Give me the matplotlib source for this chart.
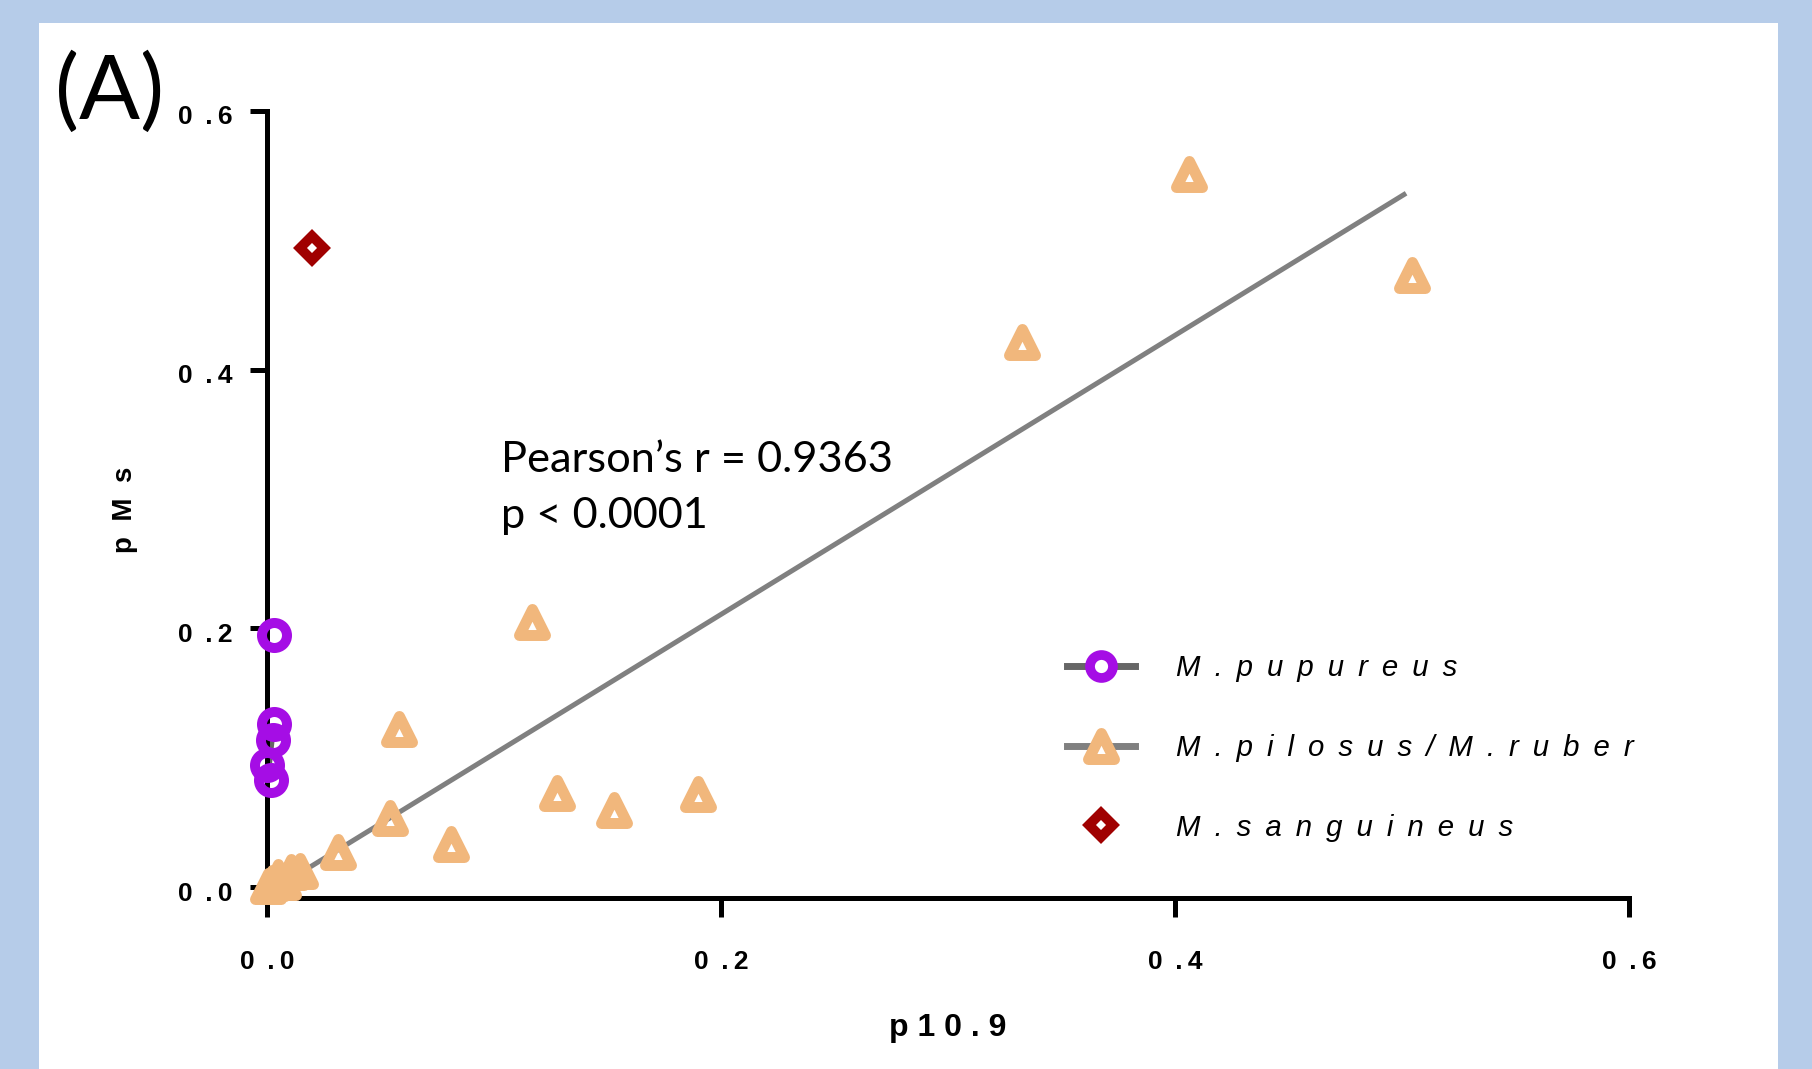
import matplotlib
matplotlib.use("Agg")
import matplotlib.pyplot as plt
from matplotlib.lines import Line2D
from matplotlib.markers import MarkerStyle
from matplotlib.patches import Rectangle
from matplotlib.transforms import ScaledTranslation

# ---- data ----
pup_x = [0.0032, 0.0032, 0.0028, 0.0001, 0.0016]
pup_y = [0.1947, 0.126, 0.114, 0.0946, 0.083]

pil_x = [0.4061, 0.5046, 0.3324, 0.1167, 0.058, 0.1276, 0.1529, 0.1897,
         0.054, 0.081, 0.0313, 0.0145, 0.0104, 0.0050, 0.002, 0.0005, 0.007]
pil_y = [0.5512, 0.4731, 0.4216, 0.2047, 0.1225, 0.073, 0.0597, 0.072,
         0.0535, 0.0333, 0.027, 0.0126, 0.0118, 0.0079, 0.003, 0.001, 0.004]

san_x = [0.020]
san_y = [0.4938]

pil_fit_x = [0.0, 0.5018]
pil_fit_y = [-0.005, 0.5364]
pup_fit_x = [0.0005, 0.0030]
pup_fit_y = [0.085, 0.125]

xticks = [0.0, 0.2, 0.4, 0.6]
yticks = [0.0, 0.2, 0.4, 0.6]
tick_labels = ["0 \u2009.\u20090", "0 \u2009.\u20092", "0 \u2009.\u20094",
               "0 \u2009.\u20096"]

species = ["M.pupureus", "M.pilosus/M.ruber", "M.sanguineus"]
# letter-spaced labels as in the reference
labels = [" \u2009".join(list(s.replace(".", "."))) for s in species]
annot = ["Pearson\u2019s r = 0.9363", "p < 0.0001"]

# ---- colours ----
c_bg = "#B6CCE9"
c_pup = "#A50DE5"
c_pil = "#F1B77C"
c_san = "#A00000"
c_fit = "#808080"
c_fit2 = "#666666"

fam = ["Liberation Sans", "DejaVu Sans"]

W, H = 1812, 1069
fig = plt.figure(figsize=(W / 100, H / 100), dpi=100, facecolor=c_bg)
fig.patches.append(Rectangle((39 / W, 0), (1778 - 39) / W, (H - 23) / H,
                             transform=fig.transFigure, facecolor="white",
                             edgecolor="none", zorder=-5))

ax = fig.add_axes([267 / W, 171 / H, (1629 - 267) / W, (958 - 171) / H])
ax.set_zorder(2)
ax.set_facecolor("none")
ax.set_xlim(0, 0.6)
ax.set_ylim(-0.0085, 0.6)

for s in ["top", "right"]:
    ax.spines[s].set_visible(False)
for s in ["left", "bottom"]:
    ax.spines[s].set_linewidth(3.6)
    ax.spines[s].set_color("black")

tickfont = dict(family=fam, weight="bold", size=19)
ax.set_xticks(xticks)
ax.set_xticklabels(tick_labels, **tickfont)
ax.set_yticks(yticks)
ax.set_yticklabels(tick_labels, **tickfont)
ax.tick_params(axis="x", direction="out", length=13.5, width=3.6, pad=24)
ax.tick_params(axis="y", direction="out", length=12.5, width=3.6, pad=12)
for lab in ax.get_yticklabels():
    lab.set_transform(lab.get_transform() +
                      ScaledTranslation(0, -4 / 100, fig.dpi_scale_trans))

# regression lines
ax.plot(pup_fit_x, pup_fit_y, color=c_fit2, lw=3.5, zorder=2,
        solid_capstyle="butt")
ax.plot(pil_fit_x, pil_fit_y, color=c_fit, lw=3.6, zorder=2,
        solid_capstyle="butt")

tri = MarkerStyle("^", joinstyle="round")
dia = MarkerStyle("D", joinstyle="miter")

ax.plot(pil_x, pil_y, linestyle="none", marker=tri, markersize=18.7,
        markeredgewidth=7.9, markeredgecolor=c_pil, markerfacecolor="none",
        clip_on=False, zorder=4)
ax.plot(pup_x, pup_y, linestyle="none", marker="o", markersize=18,
        markeredgewidth=7.2, markeredgecolor=c_pup, markerfacecolor="none",
        clip_on=False, zorder=5)
ax.plot(san_x, san_y, linestyle="none", marker=dia, markersize=12.2,
        markeredgewidth=7.1, markeredgecolor=c_san, markerfacecolor="none",
        clip_on=False, zorder=5)

# axis labels
labfont = dict(family=fam, weight="bold")
ax.set_xlabel("p 1 0 . 9", fontsize=23, **labfont)
ax.xaxis.set_label_coords(0.5, -0.1465)
ax.set_ylabel("p  M  s", fontsize=20, **labfont)
ax.yaxis.set_label_coords(-0.095, 0.493)

# legend
handles = [
    Line2D([], [], color=c_fit2, lw=5, marker="o", markersize=16.5,
           markeredgewidth=7.0, markeredgecolor=c_pup, markerfacecolor="white"),
    Line2D([], [], color=c_fit, lw=5, marker=tri, markersize=18.7,
           markeredgewidth=7.9, markeredgecolor=c_pil, markerfacecolor="white"),
    Line2D([], [], color="none", lw=0, marker=dia, markersize=12.2,
           markeredgewidth=7.1, markeredgecolor=c_san, markerfacecolor="white"),
]
leg = ax.legend(handles, labels, loc="center left",
                bbox_to_anchor=(1066.7 / W, 1 - 748 / H),
                bbox_transform=fig.transFigure,
                frameon=False, borderpad=0, borderaxespad=0,
                handlelength=2.33, handletextpad=1.37, labelspacing=1.75,
                prop=dict(family=fam, style="italic", size=21.2))

# annotation
fig.text(501 / W, 1 - 471.7 / H, annot[0], fontsize=31.2, family="Lato",
         va="baseline", ha="left")
fig.text(501 / W, 1 - 528 / H, annot[1], fontsize=31.2, family="Lato",
         va="baseline", ha="left")

# panel letter
fig.text(55 / W, 1 - 119 / H, "(A)", fontsize=65, family="Lato",
         va="baseline", ha="left")

fig.savefig("out.png", dpi=100, facecolor=c_bg)
